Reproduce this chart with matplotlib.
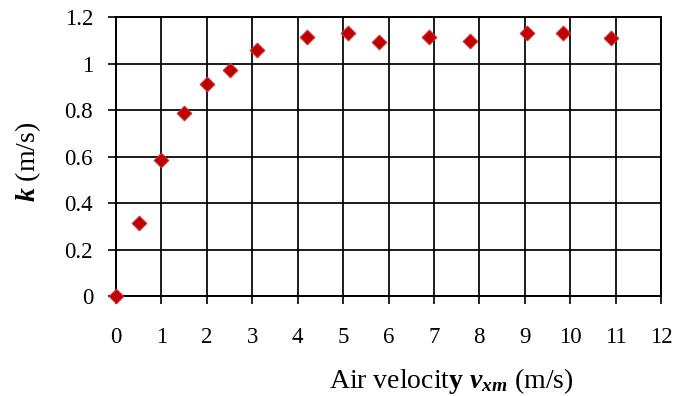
import matplotlib.pyplot as plt

plt.rcParams['font.family'] = ['Liberation Serif', 'DejaVu Serif']
plt.rcParams['mathtext.fontset'] = 'custom'
plt.rcParams['mathtext.rm'] = 'Liberation Serif'
plt.rcParams['mathtext.it'] = 'Liberation Serif:italic'
plt.rcParams['mathtext.bf'] = 'Liberation Serif:bold'
plt.rcParams['mathtext.bfit'] = 'Liberation Serif:bold:italic'

# air velocity (m/s) and k (m/s)
air_velocity = [0, 0.5, 1.0, 1.5, 2.0, 2.5, 3.1, 4.2, 5.1, 5.8, 6.9, 7.8, 9.05, 9.85, 10.9]
k_values = [0.0, 0.315, 0.587, 0.788, 0.910, 0.970, 1.058, 1.115, 1.133, 1.092, 1.115, 1.097, 1.130, 1.130, 1.108]

x_ticks = list(range(0, 13))
y_ticks = [0, 0.2, 0.4, 0.6, 0.8, 1.0, 1.2]
y_tick_labels = ['0', '0.2', '0.4', '0.6', '0.8', '1', '1.2']

fig = plt.figure(figsize=(6.75, 3.96), dpi=100)
ax = fig.add_axes([0.1719, 0.2525, 0.8074, 0.7045])

ax.scatter(air_velocity, k_values, marker='D', s=55, color='#C00000',
           edgecolors='#C83030', linewidths=0.8, zorder=3, clip_on=False)

ax.set_xlim(0, 12)
ax.set_ylim(0, 1.2)
ax.set_xticks(x_ticks)
ax.set_yticks(y_ticks)
ax.set_yticklabels(y_tick_labels)
ax.grid(True, color='black', linewidth=1.25)
ax.set_axisbelow(True)
for s in ax.spines.values():
    s.set_color('black')
    s.set_linewidth(1.4)

ax.tick_params(axis='x', length=5.5, width=1.2, pad=17, labelsize=16.5)
ax.tick_params(axis='y', length=5.5, width=1.2, pad=11, labelsize=16.5)

fig.text(0.669, 0.038, r'Air velocit$\mathbf{y}$ $\mathbfit{v}_{\mathbfit{xm}}$ (m/s)',
         ha='center', va='center', fontsize=20)
fig.text(0.0415, 0.592, r'$\mathbfit{k}$ (m/s)', rotation=90,
         ha='center', va='center', fontsize=20)

fig.savefig('out.png', dpi=100)
